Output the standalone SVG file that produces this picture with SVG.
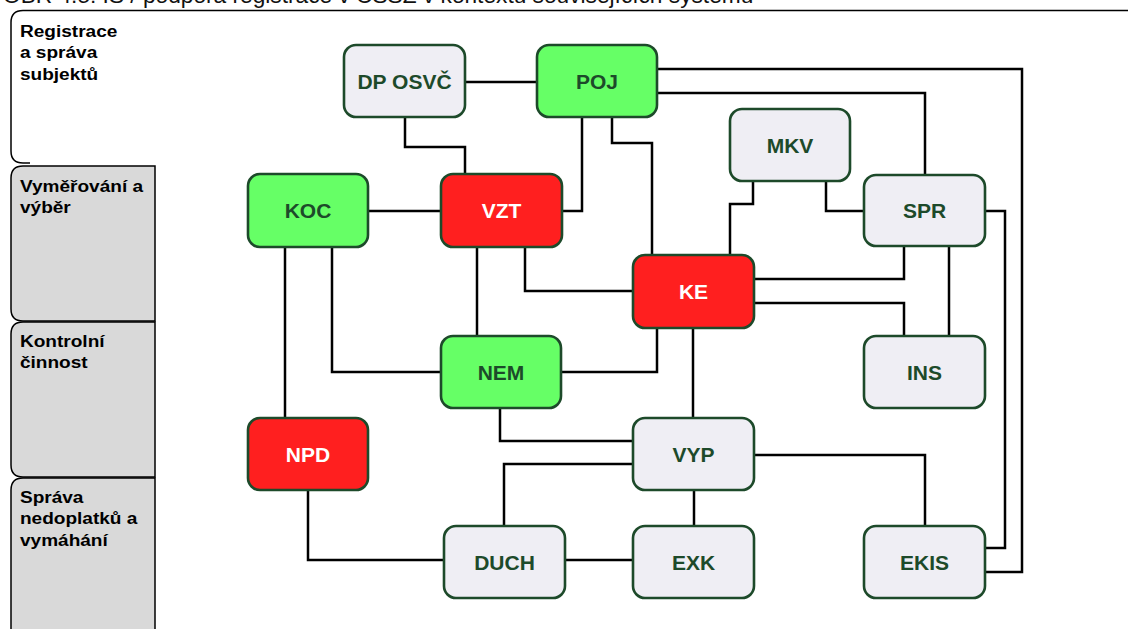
<svg xmlns="http://www.w3.org/2000/svg" width="1128" height="629" viewBox="0 0 1128 629">
  <style>
    .lane { stroke: #000; stroke-width: 1.5; }
    .lane-title { font-family: "Liberation Sans", Arial, sans-serif; font-weight: bold; font-size: 16px; fill: #000; }
    .node rect { stroke: #1d4a2a; stroke-width: 2.6; }
    .gray rect { fill: #efeef4; }
    .green rect { fill: #66ff66; }
    .red rect { fill: #ff1f1f; }
    .node text { font-family: "Liberation Sans", Arial, sans-serif; font-weight: bold; font-size: 21px; text-anchor: middle; fill: #1d4a2a; }
    .red text { fill: #ffffff; }
    .edges path { fill: none; stroke: #000; stroke-width: 2.5; stroke-linejoin: miter; }
  </style>

  <rect width="1128" height="629" fill="#ffffff"/>

  <!-- caption, partly outside the page -->
  <text x="3" y="3" font-family="Liberation Sans, Arial, sans-serif" font-size="22.7" fill="#111">OBR 4.5: IS / podpora registrace v ČSSZ v kontextu souvisejících systémů</text>

  <!-- swimlanes -->
  <g id="lanes">
    <path class="lane" fill="#ffffff" d="M1130,10.5 H23 Q11,10.5 11,22.5 V151 Q11,163 23,163 H30"/>
    <path class="lane" fill="#d9d9d9" d="M155,166 H23 Q11,166 11,178 V309 Q11,321 23,321 H155 Z"/>
    <path class="lane" fill="#d9d9d9" d="M155,322 H23 Q11,322 11,334 V465 Q11,477 23,477 H155 Z"/>
    <path class="lane" fill="#d9d9d9" d="M155,478 H23 Q11,478 11,490 V640 H155 Z"/>
    <g class="lane-title" transform="scale(1.19,1)">
      <text x="16.8" y="37">Registrace</text>
      <text x="16.8" y="58.5">a správa</text>
      <text x="16.8" y="80">subjektů</text>
      <text x="16.8" y="192">Vyměřování a</text>
      <text x="16.8" y="213.5">výběr</text>
      <text x="16.8" y="347">Kontrolní</text>
      <text x="16.8" y="368.5">činnost</text>
      <text x="16.8" y="503">Správa</text>
      <text x="16.8" y="524.5">nedoplatků a</text>
      <text x="16.8" y="546">vymáhání</text>
    </g>
  </g>

  <!-- connectors -->
  <g id="connectors" class="edges">
    <path d="M465,82 H537"/>
    <path d="M405,117 V147 H465 V174"/>
    <path d="M582,117 V211 H562"/>
    <path d="M612,117 V143 H652 V255"/>
    <path d="M657,69 H1022 V572 H985"/>
    <path d="M657,93 H925 V175"/>
    <path d="M753,181 V204 H730 V255"/>
    <path d="M826,181 V211 H864"/>
    <path d="M368,211 H441"/>
    <path d="M285,247 V418"/>
    <path d="M332,247 V372 H441"/>
    <path d="M477,247 V336"/>
    <path d="M525,247 V291 H633"/>
    <path d="M754,279 H904 V246"/>
    <path d="M754,303 H904 V336"/>
    <path d="M949,246 V336"/>
    <path d="M657,328 V372 H561"/>
    <path d="M693,328 V418"/>
    <path d="M500,408 V441 H633"/>
    <path d="M633,464 H504 V526"/>
    <path d="M694,490 V526"/>
    <path d="M754,455 H925 V526"/>
    <path d="M308,490 V560 H444"/>
    <path d="M565,560 H633"/>
    <path d="M985,211 H1005 V548 H985"/>
  </g>

  <!-- systems -->
  <g id="node-dposvc" class="node gray"><rect x="344" y="45" width="121" height="72" rx="12"/><text x="404.5" y="88.5">DP OSVČ</text></g>
  <g id="node-poj" class="node green"><rect x="537" y="45" width="120" height="72" rx="12"/><text x="597" y="88.5">POJ</text></g>
  <g id="node-mkv" class="node gray"><rect x="730" y="109" width="120" height="72" rx="12"/><text x="790" y="152.5">MKV</text></g>
  <g id="node-koc" class="node green"><rect x="248" y="174" width="120" height="73" rx="12"/><text x="308" y="218">KOC</text></g>
  <g id="node-vzt" class="node red"><rect x="441" y="174" width="121" height="73" rx="12"/><text x="501.5" y="218">VZT</text></g>
  <g id="node-spr" class="node gray"><rect x="864" y="175" width="121" height="71" rx="12"/><text x="924.5" y="218">SPR</text></g>
  <g id="node-ke" class="node red"><rect x="633" y="255" width="121" height="73" rx="12"/><text x="693.5" y="299">KE</text></g>
  <g id="node-nem" class="node green"><rect x="441" y="336" width="120" height="72" rx="12"/><text x="501" y="379.5">NEM</text></g>
  <g id="node-ins" class="node gray"><rect x="864" y="336" width="121" height="72" rx="12"/><text x="924.5" y="379.5">INS</text></g>
  <g id="node-npd" class="node red"><rect x="248" y="418" width="120" height="72" rx="12"/><text x="308" y="461.5">NPD</text></g>
  <g id="node-vyp" class="node gray"><rect x="633" y="418" width="121" height="72" rx="12"/><text x="693.5" y="461.5">VYP</text></g>
  <g id="node-duch" class="node gray"><rect x="444" y="526" width="121" height="72" rx="12"/><text x="504.5" y="569.5">DUCH</text></g>
  <g id="node-exk" class="node gray"><rect x="633" y="526" width="121" height="72" rx="12"/><text x="693.5" y="569.5">EXK</text></g>
  <g id="node-ekis" class="node gray"><rect x="864" y="526" width="121" height="72" rx="12"/><text x="924.5" y="569.5">EKIS</text></g>
</svg>
